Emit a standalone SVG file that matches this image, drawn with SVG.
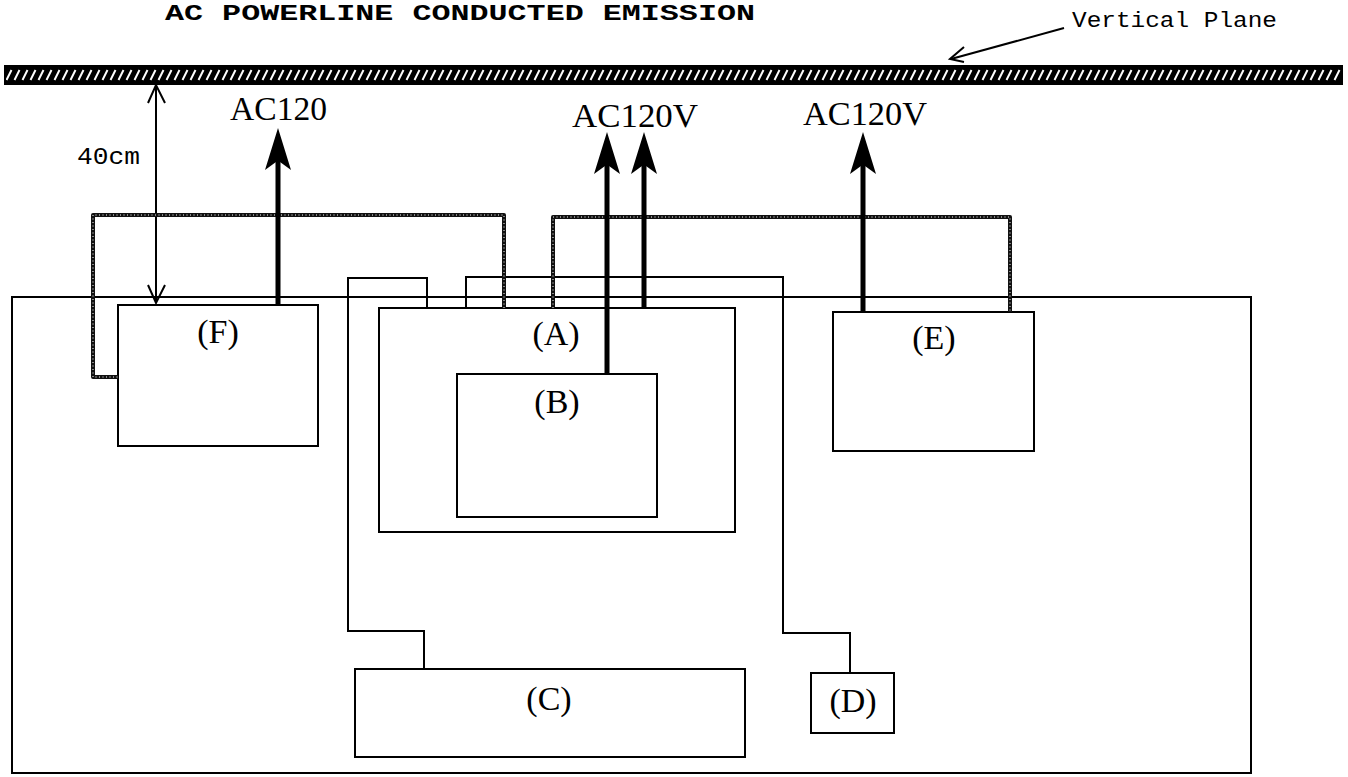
<svg xmlns="http://www.w3.org/2000/svg" width="1348" height="777" viewBox="0 0 1348 777">
<style>
.box{fill:none;stroke:#000;stroke-width:2}
.thin{fill:none;stroke:#000;stroke-width:2}
.cord{fill:none;stroke:#000;stroke-width:5}
.cable{fill:none;stroke:#111;stroke-width:4;stroke-linejoin:round}
.cabdot{fill:none;stroke:#fff;stroke-width:1;stroke-dasharray:1 2.5}
.lbl{font-family:"Liberation Serif","Times New Roman",serif;font-size:34px;fill:#000}
.mono{font-family:"Liberation Mono","Courier New",monospace;fill:#000}
.open{fill:none;stroke:#000;stroke-width:2}
</style>
<defs>
<pattern id="hatch" patternUnits="userSpaceOnUse" x="5" y="66" width="8" height="18">
<rect width="8" height="18" fill="#000"/>
<line x1="1.5" y1="14" x2="6.5" y2="4" stroke="#fff" stroke-width="2"/>
</pattern>
<path id="ph" d="M0,0 L13,42 L2,34 L-2,34 L-13,42 Z" fill="#000"/>
</defs>
<rect width="1348" height="777" fill="#fff"/>

<g id="title">
<text class="mono" x="165" y="20" font-size="22" font-weight="bold" textLength="590" lengthAdjust="spacingAndGlyphs">AC POWERLINE CONDUCTED EMISSION</text>
</g>

<g id="vertical-plane">
<rect x="5" y="66" width="1337" height="18" fill="url(#hatch)" stroke="#000" stroke-width="2"/>
<text class="mono" x="1072" y="27" font-size="22" textLength="205" lengthAdjust="spacingAndGlyphs">Vertical Plane</text>
<line x1="1064" y1="28" x2="951" y2="59" class="thin"/>
<polyline points="964,47 950,59 964,62" class="open"/>
</g>

<g id="dimension">
<line x1="156" y1="85" x2="156" y2="303" class="thin"/>
<polyline points="148,103 156,85 165,103" class="open"/>
<polyline points="148,285 156,303 165,285" class="open"/>
<text class="mono" x="77" y="164" font-size="23" textLength="63" lengthAdjust="spacingAndGlyphs">40cm</text>
</g>

<g id="table">
<rect x="12" y="297" width="1239" height="476" class="box"/>
</g>

<g id="node-F">
<rect x="118" y="305" width="200" height="141" class="box" fill="#fff"/>
<text class="lbl" x="218" y="343" text-anchor="middle">(F)</text>
</g>

<g id="node-A">
<rect x="379" y="308" width="356" height="224" class="box"/>
<text class="lbl" x="556" y="345" text-anchor="middle">(A)</text>
</g>

<g id="node-B">
<rect x="457" y="374" width="200" height="143" class="box"/>
<text class="lbl" x="557" y="413" text-anchor="middle">(B)</text>
</g>

<g id="node-E">
<rect x="833" y="312" width="201" height="139" class="box"/>
<text class="lbl" x="934" y="349" text-anchor="middle">(E)</text>
</g>

<g id="node-C">
<rect x="355" y="669" width="390" height="88" class="box"/>
<text class="lbl" x="549" y="710" text-anchor="middle">(C)</text>
</g>

<g id="node-D">
<rect x="811" y="673" width="83" height="60" class="box"/>
<text class="lbl" x="853" y="712" text-anchor="middle">(D)</text>
</g>

<g id="connectors">
<polyline points="427,308 427,278 348,278 348,631 424,631 424,669" class="thin"/>
<polyline points="466,308 466,277 783,277 783,633 850,633 850,673" class="thin"/>

<polyline points="504,308 504,215 93,215 93,377 118,377" class="cable"/>
<polyline points="504,308 504,215 93,215 93,377 118,377" class="cabdot"/>
<polyline points="553,308 553,217 1010,217 1010,312" class="cable"/>
<polyline points="553,308 553,217 1010,217 1010,312" class="cabdot"/>

<line x1="278" y1="305" x2="278" y2="150" class="cord"/>
<use href="#ph" x="278" y="128"/>
<line x1="607" y1="374" x2="607" y2="155" class="cord"/>
<use href="#ph" x="607" y="132"/>
<line x1="644" y1="308" x2="644" y2="155" class="cord"/>
<use href="#ph" x="644" y="132"/>
<line x1="863" y1="312" x2="863" y2="155" class="cord"/>
<use href="#ph" x="863" y="132"/>

<text class="lbl" x="230" y="120" textLength="97" lengthAdjust="spacingAndGlyphs">AC120</text>
<text class="lbl" x="572" y="127" textLength="126" lengthAdjust="spacingAndGlyphs">AC120V</text>
<text class="lbl" x="803" y="125" textLength="124" lengthAdjust="spacingAndGlyphs">AC120V</text>
</g>
</svg>
